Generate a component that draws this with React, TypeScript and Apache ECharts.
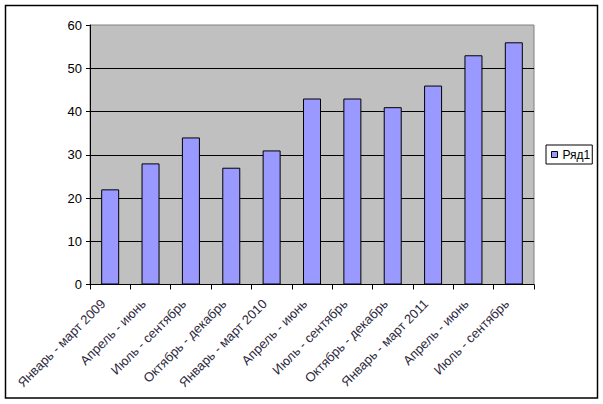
import React, { useEffect, useRef } from "react";
import * as echarts from "echarts";

const categories = [
  "Январь - март 2009",
  "Апрель - июнь",
  "Июль - сентябрь",
  "Октябрь - декабрь",
  "Январь - март 2010",
  "Апрель - июнь",
  "Июль - сентябрь",
  "Октябрь - декабрь",
  "Январь - март 2011",
  "Апрель - июнь",
  "Июль - сентябрь",
];
const seriesName = "Ряд1";
const values = [22, 28, 34, 27, 31, 43, 43, 41, 46, 53, 56];
const yMin = 0;
const yMax = 60;
const yStep = 10;

export default function App() {
  const ref = useRef<HTMLDivElement>(null);
  useEffect(() => {
    if (!ref.current) return;
    const chart = echarts.init(ref.current, undefined, { renderer: "svg" });
    const font = "Liberation Sans, Arial, sans-serif";
    chart.setOption({
      animation: false,
      backgroundColor: "#ffffff",
      textStyle: { fontFamily: font },
      graphic: [
        {
          type: "rect",
          shape: { x: 5.5, y: 5.5, width: 592, height: 392.5 },
          style: { fill: "none", stroke: "#000", lineWidth: 1.5 },
          silent: true,
        },
      ],
      grid: {
        left: 90,
        right: 69,
        top: 25,
        bottom: 119.5,
        show: true,
        backgroundColor: "#C0C0C0",
        borderColor: "#808080",
        borderWidth: 1,
      },
      legend: {
        show: true,
        left: 546,
        top: 145,
        orient: "vertical",
        backgroundColor: "#fff",
        borderColor: "#000",
        borderWidth: 1,
        borderRadius: 0,
        padding: [2, 2, 2, 5],
        itemWidth: 6,
        itemHeight: 6,
        itemGap: 4,
        icon: "rect",
        textStyle: { fontSize: 12, color: "#000", fontFamily: font, lineHeight: 15 },
        data: [{ name: seriesName, itemStyle: { color: "#9999FF", borderColor: "#000", borderWidth: 1 } }],
      },
      xAxis: {
        type: "category",
        data: categories,
        boundaryGap: true,
        axisLine: { show: true, lineStyle: { color: "#000", width: 1 } },
        axisTick: { show: true, alignWithLabel: false, length: 5, lineStyle: { color: "#000" } },
        axisLabel: {
          interval: 0,
          rotate: 45,
          fontSize: 13,
          color: "#2e2a40",
          fontFamily: font,
          margin: 10,
          padding: [0, 10, 0, 0],
        },
        splitLine: { show: false },
      },
      yAxis: {
        type: "value",
        min: yMin,
        max: yMax,
        interval: yStep,
        axisLine: { show: true, lineStyle: { color: "#000", width: 1 } },
        axisTick: { show: true, length: 4, lineStyle: { color: "#000" } },
        axisLabel: { fontSize: 13, color: "#000", fontFamily: font, margin: 8 },
        splitLine: { show: true, showMaxLine: false, showMinLine: false, lineStyle: { color: "#000", width: 1 } },
      },
      series: [
        {
          name: seriesName,
          type: "bar",
          data: values,
          barWidth: 18,
          itemStyle: { color: "#9999FF", borderColor: "#000", borderWidth: 1 },
        },
      ],
    });
    return () => chart.dispose();
  }, []);
  return (
    <div
      ref={ref}
      style={{ position: "fixed", left: 0, top: 0, width: 603, height: 404 }}
    />
  );
}
